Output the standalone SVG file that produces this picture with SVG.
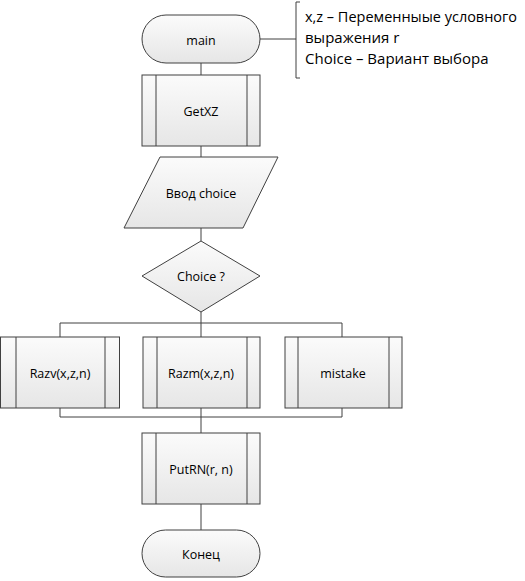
<svg xmlns="http://www.w3.org/2000/svg" width="525" height="581" viewBox="0 0 525 581">
<defs>
<linearGradient id="g" x1="0" y1="0" x2="0" y2="1">
<stop offset="0" stop-color="#fbfbfb"/>
<stop offset="1" stop-color="#e6e6e6"/>
</linearGradient>
<style>
.s{fill:url(#g);stroke:#404040;stroke-width:1}
.l{fill:none;stroke:#404040;stroke-width:1}
.t{font-family:"Open Sans","DejaVu Sans",sans-serif;font-size:12.5px;fill:#000;text-anchor:middle;dominant-baseline:central}
.n{font-family:"Open Sans","DejaVu Sans",sans-serif;font-size:15px;fill:#000}
</style>
</defs>
<rect width="525" height="581" fill="#fff"/>
<g id="connectors" class="l">
<line x1="201" y1="63" x2="201" y2="75"/>
<line x1="201" y1="146" x2="201" y2="157"/>
<line x1="201" y1="228" x2="201" y2="241"/>
<line x1="201" y1="312" x2="201" y2="337"/>
<polyline points="60,337 60,323 342,323 342,337"/>
<polyline points="60,408 60,417 342,417 342,408"/>
<line x1="201" y1="408" x2="201" y2="433"/>
<line x1="201" y1="504" x2="201" y2="530"/>
<line x1="260" y1="39" x2="296" y2="39"/>
<polyline points="300,2 296,2 296,78 300,78"/>
</g>
<g id="main">
<rect class="s" x="142" y="15" width="118" height="48" rx="24" ry="24"/>
<text class="t" x="201" y="40">main</text>
</g>
<g id="note">
<text class="n" x="305" y="22" textLength="212" lengthAdjust="spacingAndGlyphs">x,z – Переменныые условного</text>
<text class="n" x="305" y="43">выражения r</text>
<text class="n" x="305" y="64">Choice – Вариант выбора</text>
</g>
<g id="getxz">
<rect class="s" x="142" y="75" width="118" height="71"/>
<line class="l" x1="156" y1="75" x2="156" y2="146"/>
<line class="l" x1="247" y1="75" x2="247" y2="146"/>
<text class="t" x="201" y="111">GetXZ</text>
</g>
<g id="input">
<polygon class="s" points="160,157 278,157 243,228 124,228"/>
<text class="t" x="201" y="193">Ввод choice</text>
</g>
<g id="decision">
<polygon class="s" points="201,241 260,276 201,312 142,276"/>
<text class="t" x="201" y="276">Choice ?</text>
</g>
<g id="razv">
<rect class="s" x="0.5" y="337" width="119" height="71"/>
<line class="l" x1="16" y1="337" x2="16" y2="408"/>
<line class="l" x1="105" y1="337" x2="105" y2="408"/>
<text class="t" x="60" y="373">Razv(x,z,n)</text>
</g>
<g id="razm">
<rect class="s" x="143" y="337" width="117" height="71"/>
<line class="l" x1="157" y1="337" x2="157" y2="408"/>
<line class="l" x1="247" y1="337" x2="247" y2="408"/>
<text class="t" x="201" y="373">Razm(x,z,n)</text>
</g>
<g id="mistake">
<rect class="s" x="285" y="337" width="117" height="71"/>
<line class="l" x1="298" y1="337" x2="298" y2="408"/>
<line class="l" x1="389" y1="337" x2="389" y2="408"/>
<text class="t" x="343" y="373">mistake</text>
</g>
<g id="putrn">
<rect class="s" x="142" y="433" width="118" height="71"/>
<line class="l" x1="156" y1="433" x2="156" y2="504"/>
<line class="l" x1="247" y1="433" x2="247" y2="504"/>
<text class="t" x="201" y="469">PutRN(r, n)</text>
</g>
<g id="end">
<rect class="s" x="142" y="530" width="118" height="47" rx="23.5" ry="23.5"/>
<text class="t" x="201" y="554">Конец</text>
</g>
</svg>
